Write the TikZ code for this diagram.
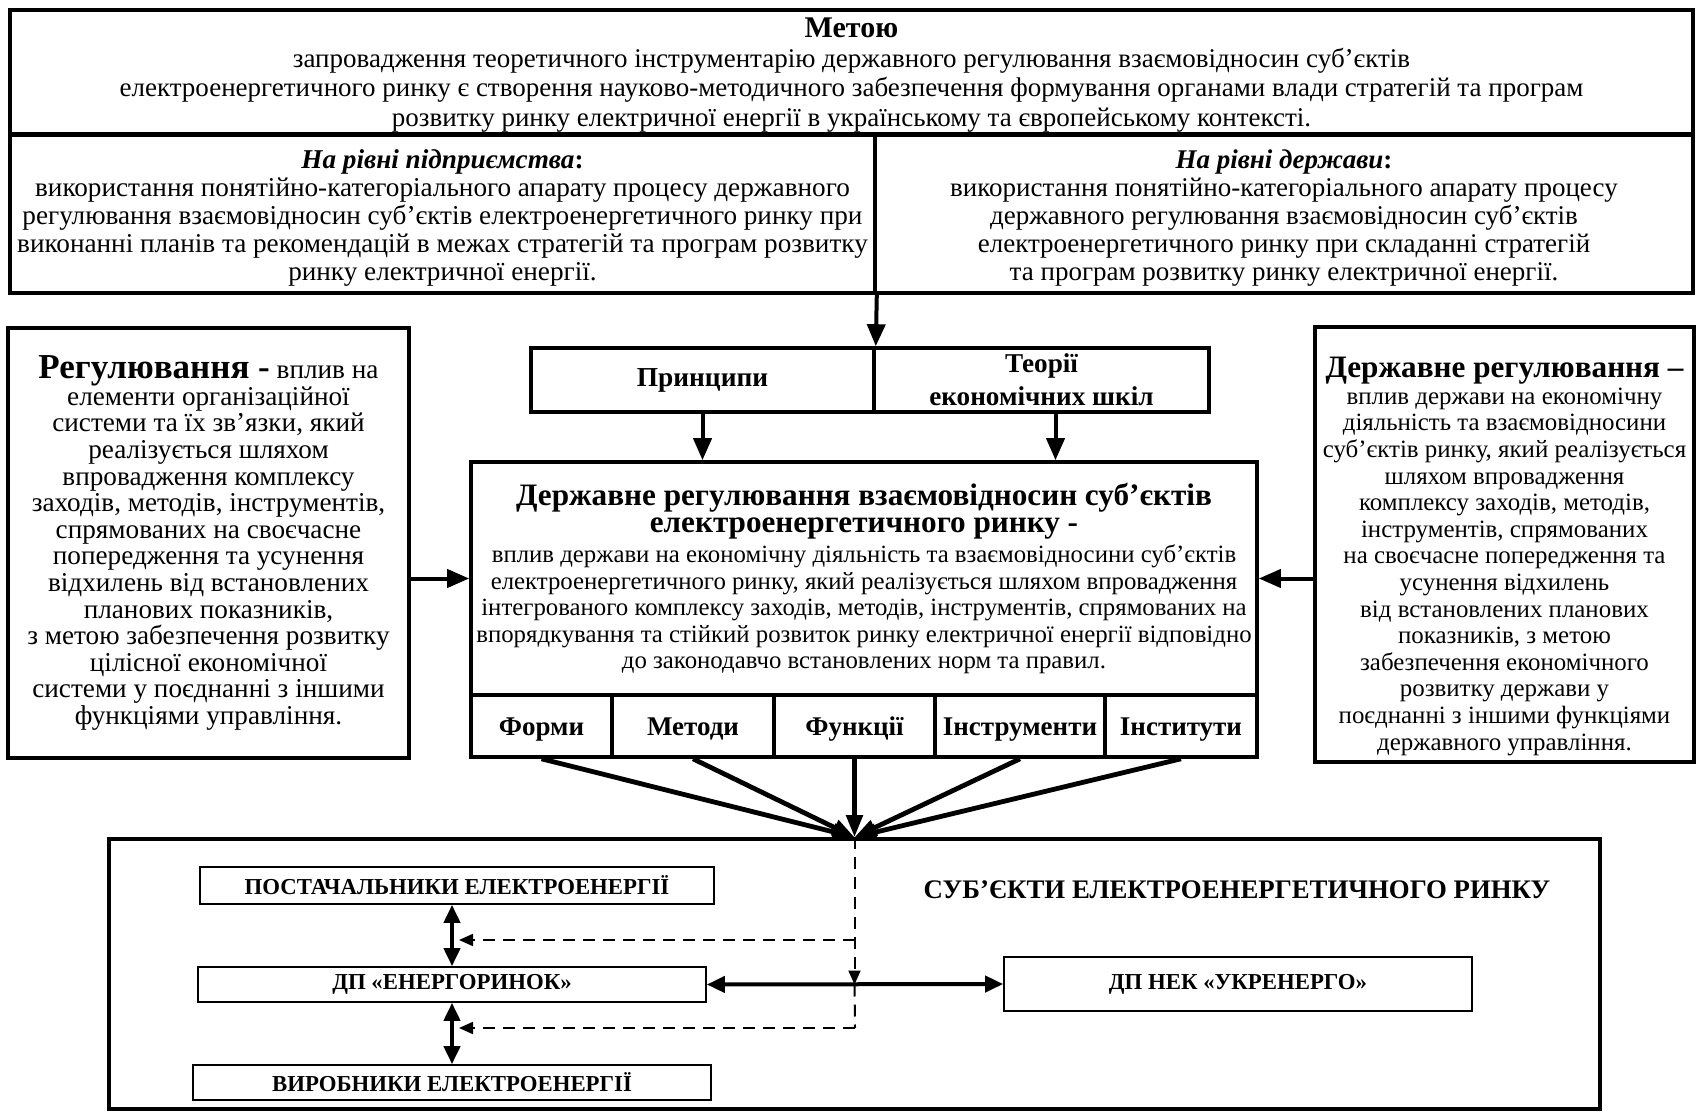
\documentclass[tikz,border=0pt]{standalone}
\usepackage{fontspec}
\setmainfont{Liberation Serif}
\usetikzlibrary{arrows.meta,calc}
\begin{document}
\begin{tikzpicture}[x=0.5pt,y=-0.5pt,
  bigbox/.style={draw,line width=1.8pt,inner sep=0pt,align=center},
  smallbox/.style={draw,line width=0.8pt,inner sep=0pt,align=center},
  sz/.style 2 args={minimum width=#1pt,minimum height=#2pt},
  arr/.style={line width=2pt,-{Triangle[length=11pt,width=9pt]}},
  conv/.style={line width=2.4pt,-{Triangle[length=11pt,width=8pt]}},
  dbl/.style={line width=2pt,{Triangle[length=9pt,width=8pt]}-{Triangle[length=9pt,width=8pt]}},
  dsh/.style={line width=1pt,dash pattern=on 6pt off 4pt,-{Triangle[length=7pt,width=6pt]}},
  dshl/.style={line width=1pt,dash pattern=on 6pt off 4pt},
  cell/.style={bigbox,minimum height=31pt,font=\fontsize{13.5}{15}\selectfont\bfseries},
  lab/.style={smallbox,font=\fontsize{11.4}{12}\selectfont\bfseries}]
\useasboundingbox (0,0) rectangle (1698,1112);
% top
\node[bigbox,sz={841.5}{62},font=\fontsize{13.5}{14.7}\selectfont] (top) at (851.5,72) {{\fontsize{15}{15}\selectfont\bfseries\rule{0pt}{13pt}Метою}\\
запровадження теоретичного інструментарію державного регулювання взаємовідносин суб’єктів\\
електроенергетичного ринку є створення науково-методичного забезпечення формування органами влади стратегій та програм\\
розвитку ринку електричної енергії в українському та європейському контексті.};
\node[bigbox,sz={432.5}{79},font=\fontsize{13.6}{14}\selectfont] (rowL) at (442.5,214) {\rule{0pt}{13pt}\textbf{\textit{На рівні підприємства}:}\\
використання понятійно-категоріального апарату процесу державного\\
регулювання взаємовідносин суб’єктів  електроенергетичного ринку при\\
виконанні планів та рекомендацій в межах стратегій та програм розвитку\\
ринку електричної енергії.};
\node[bigbox,sz={409}{79},font=\fontsize{13.5}{14}\selectfont] (rowR) at (1284,214) {\rule{0pt}{13pt}\textbf{\textit{На рівні держави}:}\\
використання понятійно-категоріального апарату процесу\\
державного регулювання взаємовідносин суб’єктів\\
електроенергетичного ринку при складанні стратегій\\
та програм розвитку ринку електричної енергії.};
% principles
\node[bigbox,sz={171.5}{32},font=\fontsize{13.7}{16}\selectfont\bfseries] (pr) at (702.5,380) {Принципи};
\node[bigbox,sz={167.5}{32},font=\fontsize{13.6}{16.5}\selectfont\bfseries] (teo) at (1041.5,380) {Теорії\\ економічних шкіл};
% side boxes
\node[bigbox,sz={200.5}{215},font=\fontsize{13.6}{13.3}\selectfont] (lb) at (208.5,543) {{\fontsize{17.5}{17.5}\selectfont\bfseries Регулювання -} вплив на\\
елементи організаційної\\
системи та їх зв’язки, який\\
реалізується шляхом\\
впровадження комплексу\\
заходів, методів, інструментів,\\
спрямованих на своєчасне\\
попередження та усунення\\
відхилень від встановлених\\
планових показників,\\
з метою забезпечення розвитку\\
цілісної економічної\\
системи у поєднанні з іншими\\
функціями управління.};
\node[bigbox,sz={189.5}{217.5},font=\fontsize{12.45}{13.3}\selectfont] (rb) at (1504.5,544.5) {{\fontsize{15.6}{15.6}\selectfont\bfseries\rule{0pt}{22pt}Державне регулювання –}\\
вплив держави на економічну\\
діяльність та взаємовідносини\\
суб’єктів ринку, який реалізується\\
шляхом впровадження\\
комплексу заходів, методів,\\
інструментів, спрямованих\\
на своєчасне попередження та\\
усунення відхилень\\
від встановлених планових\\
показників, з метою\\
забезпечення економічного\\
розвитку держави у\\
поєднанні з іншими функціями\\
державного управління.};
% central
\node[bigbox,sz={393}{116.5},font=\fontsize{12.4}{13.25}\selectfont] (cb) at (864,578.5) {{\fontsize{15.6}{16}\selectfont\bfseries Державне регулювання взаємовідносин суб’єктів}\\
{\fontsize{15.6}{16}\selectfont\bfseries електроенергетичного ринку -}\\[2pt]
вплив держави на економічну діяльність та взаємовідносини суб’єктів\\
електроенергетичного ринку, який реалізується шляхом впровадження\\
інтегрованого комплексу заходів, методів, інструментів, спрямованих на\\
впорядкування та стійкий розвиток ринку електричної енергії відповідно\\
до законодавчо встановлених норм та правил.};
\node[cell,minimum width=70.5pt] (c1) at (541.5,726) {\rule{0pt}{12pt}Форми};
\node[cell,minimum width=81pt] (c2) at (693,726) {\rule{0pt}{12pt}Методи};
\node[cell,minimum width=80.5pt] (c3) at (854.5,726) {\rule{0pt}{12pt}Функції};
\node[cell,minimum width=85pt] (c4) at (1020,726) {\rule{0pt}{12pt}Інструменти};
\node[cell,minimum width=76pt] (c5) at (1181,726) {\rule{0pt}{12pt}Інститути};
% bottom
\node[bigbox,sz={745.5}{135}] (outer) at (854.5,974) {};
\node[lab,sz={257}{18.5}] (post) at (457,885.5) {ПОСТАЧАЛЬНИКИ ЕЛЕКТРОЕНЕРГІЇ};
\node[lab,sz={254}{17.5}] (enr) at (452,984.5) {ДП «ЕНЕРГОРИНОК»};
\node[lab,sz={259}{17.5}] (vyr) at (452,1082.5) {ВИРОБНИКИ ЕЛЕКТРОЕНЕРГІЇ};
\node[lab,sz={234}{27}] (ukr) at (1238,984) {ДП НЕК «УКРЕНЕРГО»};
\node[inner sep=0pt,font=\fontsize{13.4}{14}\selectfont\bfseries] (subj) at (1237,890) {СУБ’ЄКТИ ЕЛЕКТРОЕНЕРГЕТИЧНОГО РИНКУ};
% connectors
\draw[arr] (rowL.south east) -- (pr.north east);
\draw[arr] (pr.south) -- (pr.south |- cb.north);
\draw[arr] ($(teo.south)+(14,0)$) -- ($(teo.south |- cb.north)+(14,0)$);
\draw[arr] (lb.east |- cb.west) -- (cb.west);
\draw[arr] (rb.west |- cb.east) -- (cb.east);
\coordinate (cv) at (c3.south |- outer.north);
\foreach \c in {c1,c2,c3,c4,c5} \draw[conv] (\c.south) -- (cv);
\coordinate (d1) at (855,940);
\coordinate (d2) at (855,1028);
\coordinate (t1) at (459,940);
\coordinate (t2) at (459,1028);
\draw[dsh] (cv) -- (cv |- enr.east);
\draw[dshl] (cv |- enr.east) -- (d2);
\draw[dsh] (d2) -- (t2);
\draw[dsh] (d1) -- (t1);
\draw[dbl] (enr.east) -- (ukr.west);
\draw[dbl] (post.south -| enr.north) -- (enr.north);
\draw[dbl] (enr.south) -- (enr.south |- vyr.north);
\end{tikzpicture}
\end{document}
